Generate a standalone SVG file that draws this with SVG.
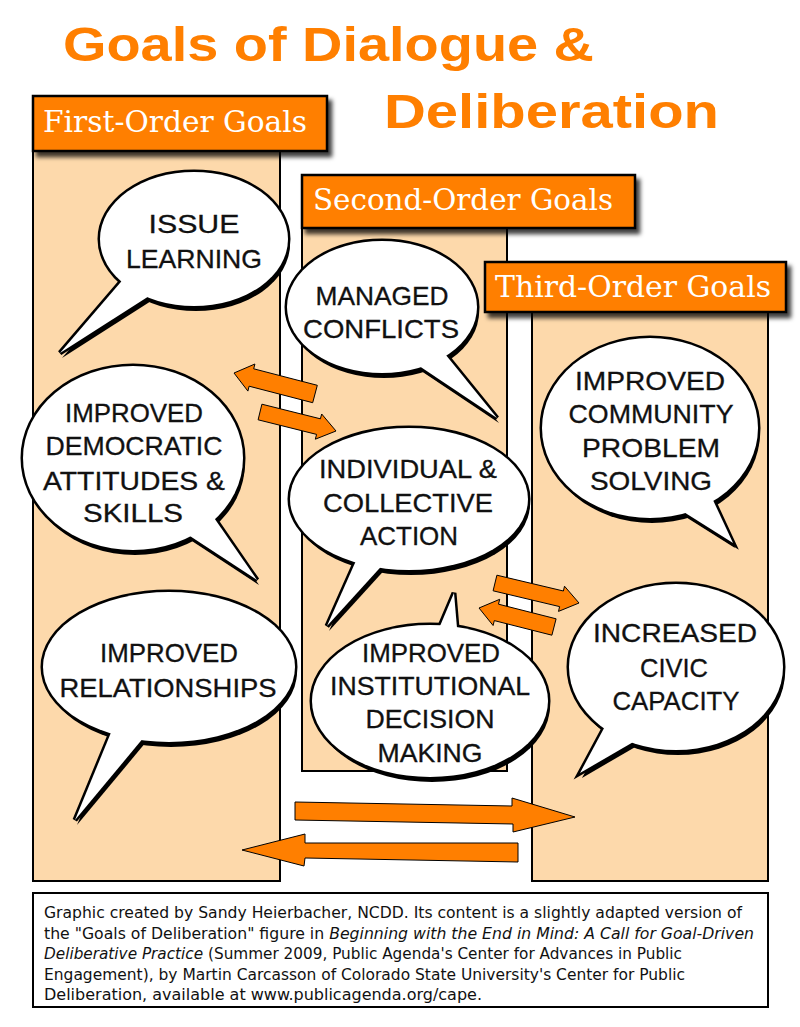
<svg xmlns="http://www.w3.org/2000/svg" xmlns:xlink="http://www.w3.org/1999/xlink" width="800" height="1027" viewBox="0 0 800 1027">
<style>
.title{font-family:"Liberation Sans",Arial,sans-serif;font-weight:bold;font-size:49px;fill:#FF7F00}
.panel{fill:#FDD9AB;stroke:#000;stroke-width:2}
.hdr{fill:#FF7F00;stroke:#000;stroke-width:2.5}
.ht{font-family:"DejaVu Serif Condensed","DejaVu Serif","Liberation Serif",serif;font-size:29px;fill:#fff}
.sh{fill:#000}
.ol{fill:#000;stroke:#000;stroke-width:5;stroke-linejoin:miter}
.wf{fill:#fff}
.bt{font-family:"Liberation Sans",Arial,sans-serif;font-size:26px;fill:#111;stroke:#111;stroke-width:0.3;text-anchor:middle}
.arr{fill:#FF7F00;stroke:#000;stroke-width:1;stroke-linejoin:miter}
.foot{font-family:"DejaVu Sans Condensed","DejaVu Sans",sans-serif;font-size:15.5px;fill:#111}
</style>
<defs>
<filter id="hshadow" x="-10%" y="-20%" width="130%" height="160%">
<feDropShadow dx="4" dy="5" stdDeviation="2" flood-color="#000" flood-opacity="0.75"/>
</filter>
<g id="s-issue"><ellipse cx="194" cy="239" rx="94" ry="67"/><polygon points="126,276 154.6,292.5 60,353"/></g>
<g id="s-managed"><ellipse cx="382" cy="307" rx="95" ry="66"/><polygon points="440.6,348.4 417.7,365.1 497,418"/></g>
<g id="s-democratic"><ellipse cx="133" cy="458" rx="110" ry="92"/><polygon points="209,510.4 183.4,531.7 257,580"/></g>
<g id="s-individual"><ellipse cx="409" cy="499" rx="119" ry="71"/><polygon points="359.2,553.6 385.7,561.6 327,626"/></g>
<g id="s-community"><ellipse cx="650" cy="428" rx="108" ry="90"/><polygon points="709,491.4 679,509 733,543"/></g>
<g id="s-relationships"><ellipse cx="169" cy="667" rx="126" ry="75"/><polygon points="114.2,724.8 147.8,732.6 75,820"/></g>
<g id="s-institutional"><ellipse cx="430" cy="701" rx="118" ry="76"/><polygon points="435.8,635.9 457.9,638.5 454,593"/></g>
<g id="s-civic"><ellipse cx="676" cy="667" rx="107" ry="83"/><polygon points="606.4,723.8 637.6,739.4 580,773"/></g>
</defs>
<rect width="800" height="1027" fill="#fff"/>

<g id="title">
<text class="title" x="63" y="61" textLength="531" lengthAdjust="spacingAndGlyphs">Goals of Dialogue &amp;</text>
<text class="title" x="384" y="128" textLength="335" lengthAdjust="spacingAndGlyphs">Deliberation</text>
</g>

<g id="panels">
<rect id="panel-first" class="panel" x="33" y="151" width="247" height="730"/>
<rect id="panel-second" class="panel" x="302" y="227" width="205" height="544"/>
<rect id="panel-third" class="panel" x="532" y="312" width="236" height="569"/>
</g>

<g id="header-first">
<rect class="hdr" x="33" y="96" width="294" height="55" filter="url(#hshadow)"/>
<text class="ht" x="43" y="132" textLength="264" lengthAdjust="spacingAndGlyphs">First-Order Goals</text>
</g>
<g id="header-second">
<rect class="hdr" x="302" y="175" width="333" height="53" filter="url(#hshadow)"/>
<text class="ht" x="313" y="210" textLength="300" lengthAdjust="spacingAndGlyphs">Second-Order Goals</text>
</g>
<g id="header-third">
<rect class="hdr" x="485" y="262" width="301" height="50" filter="url(#hshadow)"/>
<text class="ht" x="495" y="297" textLength="276" lengthAdjust="spacingAndGlyphs">Third-Order Goals</text>
</g>

<g id="node-issue-learning">
<use xlink:href="#s-issue" class="sh" transform="translate(2,5)"/>
<use xlink:href="#s-issue" class="ol"/>
<use xlink:href="#s-issue" class="wf"/>
<text class="bt" x="194" y="233" textLength="91" lengthAdjust="spacingAndGlyphs">ISSUE</text>
<text class="bt" x="194" y="268" textLength="136" lengthAdjust="spacingAndGlyphs">LEARNING</text>
</g>

<g id="node-managed-conflicts">
<use xlink:href="#s-managed" class="sh" transform="translate(2,5)"/>
<use xlink:href="#s-managed" class="ol"/>
<use xlink:href="#s-managed" class="wf"/>
<text class="bt" x="382" y="305" textLength="133" lengthAdjust="spacingAndGlyphs">MANAGED</text>
<text class="bt" x="381" y="338" textLength="156" lengthAdjust="spacingAndGlyphs">CONFLICTS</text>
</g>

<g id="node-democratic-attitudes">
<use xlink:href="#s-democratic" class="sh" transform="translate(2,5)"/>
<use xlink:href="#s-democratic" class="ol"/>
<use xlink:href="#s-democratic" class="wf"/>
<text class="bt" x="134" y="422" textLength="138" lengthAdjust="spacingAndGlyphs">IMPROVED</text>
<text class="bt" x="134" y="455" textLength="177" lengthAdjust="spacingAndGlyphs">DEMOCRATIC</text>
<text class="bt" x="134" y="490" textLength="182" lengthAdjust="spacingAndGlyphs">ATTITUDES &amp;</text>
<text class="bt" x="133" y="522" textLength="100" lengthAdjust="spacingAndGlyphs">SKILLS</text>
</g>

<g id="node-individual-collective-action">
<use xlink:href="#s-individual" class="sh" transform="translate(2,5)"/>
<use xlink:href="#s-individual" class="ol"/>
<use xlink:href="#s-individual" class="wf"/>
<text class="bt" x="408" y="478" textLength="178" lengthAdjust="spacingAndGlyphs">INDIVIDUAL &amp;</text>
<text class="bt" x="408" y="512" textLength="170" lengthAdjust="spacingAndGlyphs">COLLECTIVE</text>
<text class="bt" x="409" y="545" textLength="98" lengthAdjust="spacingAndGlyphs">ACTION</text>
</g>

<g id="node-community-problem-solving">
<use xlink:href="#s-community" class="sh" transform="translate(2,5)"/>
<use xlink:href="#s-community" class="ol"/>
<use xlink:href="#s-community" class="wf"/>
<text class="bt" x="650" y="390" textLength="150" lengthAdjust="spacingAndGlyphs">IMPROVED</text>
<text class="bt" x="651" y="423" textLength="165" lengthAdjust="spacingAndGlyphs">COMMUNITY</text>
<text class="bt" x="651" y="457" textLength="138" lengthAdjust="spacingAndGlyphs">PROBLEM</text>
<text class="bt" x="651" y="490" textLength="122" lengthAdjust="spacingAndGlyphs">SOLVING</text>
</g>

<g id="node-improved-relationships">
<use xlink:href="#s-relationships" class="sh" transform="translate(2,5)"/>
<use xlink:href="#s-relationships" class="ol"/>
<use xlink:href="#s-relationships" class="wf"/>
<text class="bt" x="169" y="662" textLength="138" lengthAdjust="spacingAndGlyphs">IMPROVED</text>
<text class="bt" x="168" y="697" textLength="217" lengthAdjust="spacingAndGlyphs">RELATIONSHIPS</text>
</g>

<g id="node-institutional-decision-making">
<use xlink:href="#s-institutional" class="sh" transform="translate(2,5)"/>
<use xlink:href="#s-institutional" class="ol"/>
<use xlink:href="#s-institutional" class="wf"/>
<text class="bt" x="431" y="662" textLength="138" lengthAdjust="spacingAndGlyphs">IMPROVED</text>
<text class="bt" x="430" y="695" textLength="200" lengthAdjust="spacingAndGlyphs">INSTITUTIONAL</text>
<text class="bt" x="430" y="728" textLength="129" lengthAdjust="spacingAndGlyphs">DECISION</text>
<text class="bt" x="430" y="762" textLength="105" lengthAdjust="spacingAndGlyphs">MAKING</text>
</g>

<g id="node-civic-capacity">
<use xlink:href="#s-civic" class="sh" transform="translate(2,5)"/>
<use xlink:href="#s-civic" class="ol"/>
<use xlink:href="#s-civic" class="wf"/>
<text class="bt" x="675" y="642" textLength="164" lengthAdjust="spacingAndGlyphs">INCREASED</text>
<text class="bt" x="674" y="677" textLength="68" lengthAdjust="spacingAndGlyphs">CIVIC</text>
<text class="bt" x="676" y="710" textLength="127" lengthAdjust="spacingAndGlyphs">CAPACITY</text>
</g>

<g id="connectors">
<polygon class="arr" points="317.3,385.3 253.7,368.8 254.9,364 234,373 247.9,391.1 249.1,386.2 312.7,402.7"/>
<polygon class="arr" points="261.9,404.2 320.4,418.8 321.7,414 336,431 315.3,439.2 316.6,434.4 258.1,419.8"/>
<polygon class="arr" points="496.9,575.2 563.4,591 564.5,586.2 579,603 558.5,611.4 559.6,606.6 493.1,590.8"/>
<polygon class="arr" points="556.1,618.8 498.5,604.2 499.7,599.3 479,608 493.1,625.5 494.3,620.6 551.9,635.2"/>
<polygon class="arr" points="295,802 512,806 512,798 575,817 513,832 513,824 295,820"/>
<polygon class="arr" points="518,843 305,843 305,834 242,850 304,866 305,858 518,862"/>
</g>

<g id="footer">
<rect x="33" y="893" width="735" height="114" fill="#fff" stroke="#000" stroke-width="2"/>
<text class="foot" x="44" y="918" textLength="698" lengthAdjust="spacingAndGlyphs">Graphic created by Sandy Heierbacher, NCDD. Its content is a slightly adapted version of</text>
<text class="foot" x="44" y="938.5" textLength="710" lengthAdjust="spacingAndGlyphs">the "Goals of Deliberation" figure in <tspan font-style="italic">Beginning with the End in Mind: A Call for Goal-Driven</tspan></text>
<text class="foot" x="44" y="959" textLength="638" lengthAdjust="spacingAndGlyphs"><tspan font-style="italic">Deliberative Practice</tspan> (Summer 2009, Public Agenda's Center for Advances in Public</text>
<text class="foot" x="44" y="979.5" textLength="641" lengthAdjust="spacingAndGlyphs">Engagement), by Martin Carcasson of Colorado State University's Center for Public</text>
<text class="foot" x="44" y="1000" textLength="438" lengthAdjust="spacingAndGlyphs">Deliberation, available at www.publicagenda.org/cape.</text>
</g>
</svg>
